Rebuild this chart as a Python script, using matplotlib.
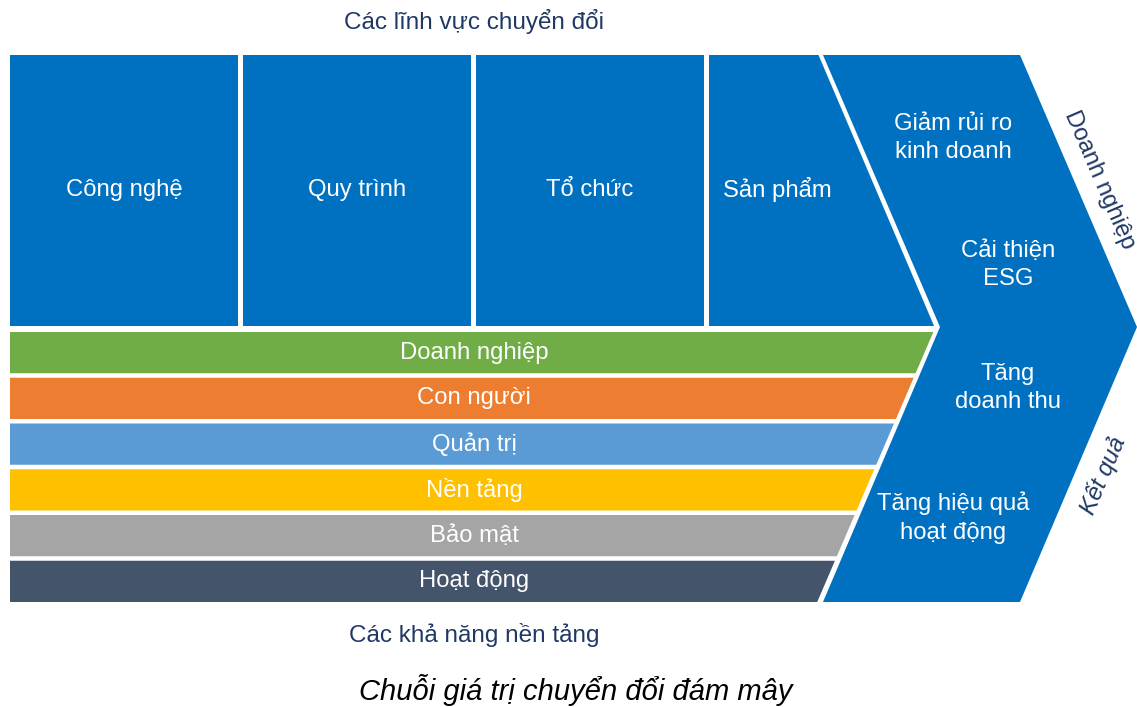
import math
import matplotlib
matplotlib.use("Agg")
import matplotlib.pyplot as plt
from matplotlib.patches import Polygon

# ---- content ----
domains = ["Công nghệ", "Quy trình", "Tổ chức", "Sản phẩm"]
capabilities = ["Doanh nghiệp", "Con người", "Quản trị", "Nền tảng", "Bảo mật", "Hoạt động"]
capability_colors = ["#70AD47", "#ED7D31", "#5B9BD5", "#FFC000", "#A5A5A5", "#44546A"]
outcomes = ["Giảm rủi ro\nkinh doanh", "Cải thiện\nESG", "Tăng\ndoanh thu", "Tăng hiệu quả\nhoạt động"]
side_labels = ["Doanh nghiệp", "Kết quả"]
top_title = "Các lĩnh vực chuyển đổi"
bottom_title = "Các khả năng nền tảng"
caption = "Chuỗi giá trị chuyển đổi đám mây"

# ---- style / layout ----
BLUE = "#0070C0"
NAVY = "#1F3864"
FONT = ["Liberation Sans", "DejaVu Sans"]
FS = 17.2
W, H = 1137, 707
left = 10
top, mid, bottom = 55, 327, 602
gap = 4.5
chev_left, chev_right, tip_x = 823, 1020, 1137
notch_x = 940
slope = (mid - top) / (notch_x - chev_left)  # dy/dx of chevron left edge

fig = plt.figure(figsize=(W / 100, H / 100), dpi=100)
ax = fig.add_axes([0, 0, 1, 1])
ax.set_xlim(0, W)
ax.set_ylim(H, 0)
ax.axis("off")

def edge_x(y, offset):
    # x on the chevron's left (notched) edge at height y, shifted left by offset
    if y <= mid:
        return chev_left + (y - top) / slope - offset
    return notch_x - (y - mid) / slope - offset

# Chevron
chev = [(chev_left, top), (chev_right, top), (tip_x, mid), (chev_right, bottom),
        (chev_left, bottom), (notch_x, mid)]
ax.add_patch(Polygon(chev, closed=True, fc=BLUE, ec="none"))

# Top columns
col_w = 228
col_gap = 5
col_bottom = mid - 1
for i, name in enumerate(domains):
    x0 = left + i * (col_w + col_gap)
    y0, y1 = top, col_bottom
    if i < len(domains) - 1:
        x1 = x0 + col_w
        pts = [(x0, y0), (x1, y0), (x1, y1), (x0, y1)]
        cx = (x0 + x1) / 2
    else:
        pts = [(x0, y0), (edge_x(y0, gap), y0), (edge_x(y1, gap + 1), y1), (x0, y1)]
        cx = x0 + 68
    ax.add_patch(Polygon(pts, closed=True, fc=BLUE, ec="none"))
    ax.text(cx, 190, name, color="white", fontsize=FS, family=FONT,
            ha="center", va="center")

# Capability bars
n = len(capabilities)
bar_top = 332
pitch = (bottom - bar_top + gap) / n
for i, (name, col) in enumerate(zip(capabilities, capability_colors)):
    y0 = bar_top + i * pitch
    y1 = y0 + pitch - gap
    pts = [(left, y0), (edge_x(y0, gap), y0), (edge_x(y1, gap), y1), (left, y1)]
    ax.add_patch(Polygon(pts, closed=True, fc=col, ec="none"))
    ax.text(474, (y0 + y1) / 2, name, color="white", fontsize=FS, family=FONT,
            ha="center", va="center")

# Outcomes
outcome_pos = [(953, 138), (1008, 265), (1008, 388), (953, 518)]
for txt, (x, y) in zip(outcomes, outcome_pos):
    ax.text(x, y, txt, color="white", fontsize=FS, family=FONT,
            ha="center", va="center", linespacing=1.4)

# Side labels along chevron's right edges
ang = math.degrees(math.atan2(mid - top, tip_x - chev_right))
ax.text(1099, 180, side_labels[0], color=NAVY, fontsize=FS, family=FONT,
        ha="center", va="center", rotation=-ang, rotation_mode="anchor")
ax.text(1103, 476, side_labels[1], color=NAVY, fontsize=FS, family=FONT,
        ha="center", va="center", rotation=ang, rotation_mode="anchor", style="italic")

# Titles
ax.text(474, 22, top_title, color=NAVY, fontsize=17.5, family=FONT, ha="center", va="center")
ax.text(474, 635, bottom_title, color=NAVY, fontsize=17.5, family=FONT, ha="center", va="center")
ax.text(576, 690, caption, color="black", fontsize=21, family=FONT, ha="center", va="center",
        style="italic")

fig.savefig("out.png", dpi=100, facecolor="white")
